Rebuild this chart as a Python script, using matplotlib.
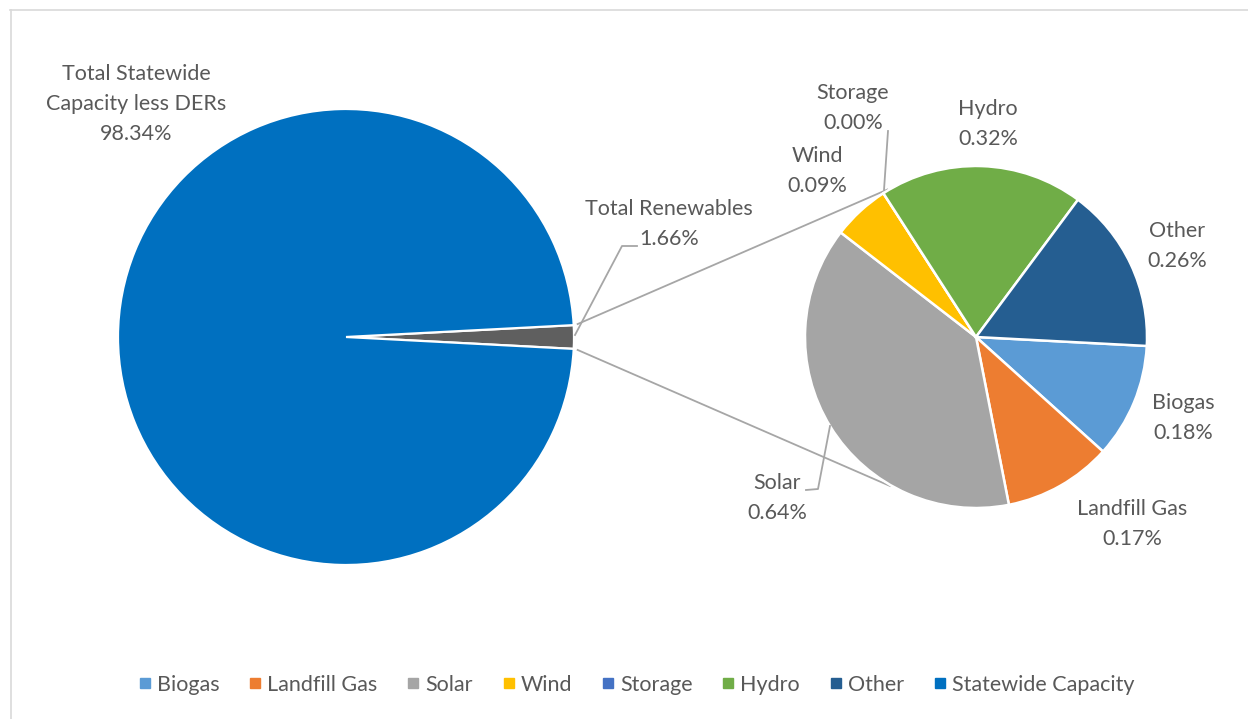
import numpy as np
import matplotlib
matplotlib.use('Agg')
import matplotlib.pyplot as plt
from matplotlib.lines import Line2D

plt.rcParams['font.family'] = ['Lato', 'DejaVu Sans']

# Data (percent of total statewide capacity)
main_labels = ['Total Renewables', 'Total Statewide\nCapacity less DERs']
main_values = [1.66, 98.34]

sub_labels = ['Biogas', 'Landfill Gas', 'Solar', 'Wind', 'Storage', 'Hydro', 'Other']
sub_values = [0.18, 0.17, 0.64, 0.09, 0.00, 0.32, 0.26]

legend_labels = ['Biogas', 'Landfill Gas', 'Solar', 'Wind', 'Storage', 'Hydro', 'Other',
                 'Statewide Capacity']

main_colors = ['#5f5f5f', '#0070c0']
sub_colors = ['#5b9bd5', '#ed7d31', '#a5a5a5', '#ffc000', '#4472c4', '#70ad47', '#255e91']
legend_colors = sub_colors + ['#0070c0']

W, H = 1248, 719
text_color = '#595959'
line_color = '#a6a6a6'


def py(y):
    # pixel row (from top) -> data y (from bottom)
    return H - y


fig = plt.figure(figsize=(W / 100, H / 100), dpi=100)
ax = fig.add_axes([0, 0, 1, 1])

# main pie
c1 = (346, py(337))
r1 = 228
half = 360 * main_values[0] / sum(main_values) / 2
ax.pie(main_values, colors=main_colors, startangle=half, counterclock=False,
       center=c1, radius=r1, wedgeprops=dict(edgecolor='white', linewidth=1.6))

# secondary pie
c2 = (976, py(337))
r2 = 171
ax.pie(sub_values, colors=sub_colors, startangle=-3, counterclock=False,
       center=c2, radius=r2, wedgeprops=dict(edgecolor='white', linewidth=1.8))

ax.set_xlim(0, W)
ax.set_ylim(0, H)
ax.set_aspect('equal')
ax.axis('off')

# connector lines between the two pies
for a1, a2 in [(3.2, 121), (-3.2, -120)]:
    p1 = (c1[0] + (r1 + 4) * np.cos(np.radians(a1)), c1[1] + (r1 + 4) * np.sin(np.radians(a1)))
    p2 = (c2[0] + (r2 + 1) * np.cos(np.radians(a2)), c2[1] + (r2 + 1) * np.sin(np.radians(a2)))
    ax.plot([p1[0], p2[0]], [p1[1], p2[1]], color=line_color, lw=1.3, zorder=0)

fs = 15.5
tk = dict(fontsize=fs, color=text_color, ha='center', va='center', linespacing=1.6)

ax.text(136, py(104), 'Total Statewide\nCapacity less DERs\n98.34%', **tk)
ax.text(669, py(224), 'Total Renewables\n1.66%', **tk)
ax.plot([575, 622, 637], [py(335), py(246), py(246)], color=line_color, lw=1.3)

ax.text(853, py(108), 'Storage\n0.00%', **tk)
ax.plot([884, 888], [py(190), py(131)], color=line_color, lw=1.3)
ax.text(988, py(124), 'Hydro\n0.32%', **tk)
ax.text(817, py(171), 'Wind\n0.09%', **tk)
ax.text(1177, py(246), 'Other\n0.26%', **tk)
ax.text(1183, py(418), 'Biogas\n0.18%', **tk)
ax.text(1132, py(524), 'Landfill Gas\n0.17%', **tk)
ax.text(777, py(498), 'Solar\n0.64%', **tk)
ax.plot([830, 818, 806], [py(426), py(489), py(490)], color=line_color, lw=1.3)

# chart frame (top and left edges visible)
ax.plot([10, W], [py(9.5), py(9.5)], color='#d9d9d9', lw=1.2, clip_on=False)
ax.plot([10.5, 10.5], [0, py(9.5)], color='#d9d9d9', lw=1.2, clip_on=False)

handles = [Line2D([], [], marker='s', linestyle='none', markersize=7,
                  markerfacecolor=c, markeredgecolor=c) for c in legend_colors]
fig.legend(handles, legend_labels, loc='center', bbox_to_anchor=(0.509, 1 - 685 / H),
           ncol=8, frameon=False, fontsize=fs, handletextpad=0.15, columnspacing=1.27,
           labelcolor=text_color, handlelength=0.8)

fig.savefig('out.png', dpi=100, facecolor='white')
